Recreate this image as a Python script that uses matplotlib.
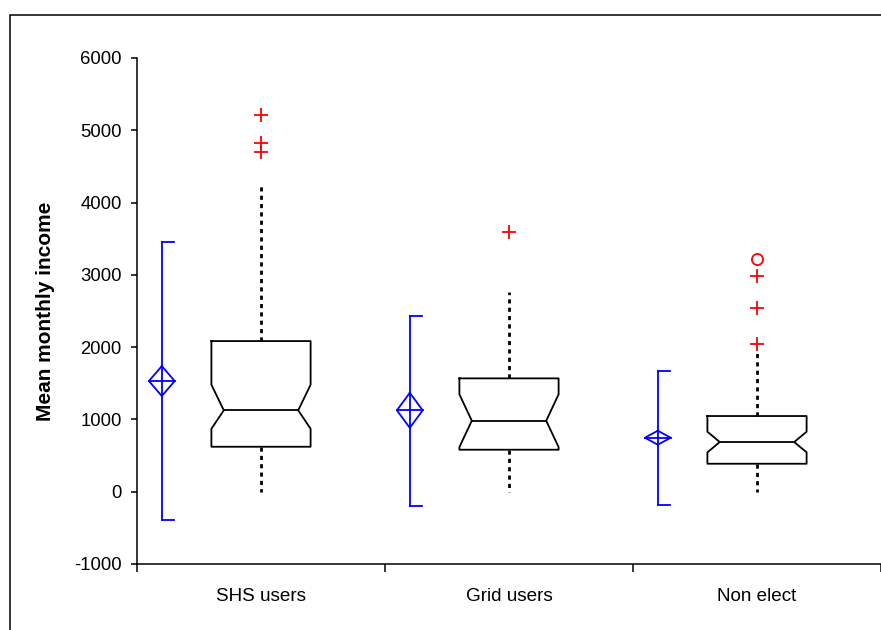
import matplotlib.pyplot as plt
from matplotlib.patches import Rectangle
import numpy as np

plt.rcParams['font.family'] = ['Liberation Sans', 'DejaVu Sans']
plt.rcParams['axes.unicode_minus'] = False

# data
groups = ['SHS users', 'Grid users', 'Non elect']
mean_vals = [1531, 1126, 747]
sd_upper = [3458, 2434, 1674]
sd_lower = [-390, -198, -184]
mean_ci = [207, 242, 97]          # half-height of the mean diamond
box_q1 = [622, 581, 387]
box_q3 = [2084, 1568, 1047]
box_median = [1126, 982, 687]
notch_low = [871, 617, 545]
notch_high = [1480, 1347, 830]
whisker_low = [0, 0, 0]
whisker_high = [4252, 2766, 1960]
outliers_plus = [[5210, 4819, 4703], [3596], [2043, 2545, 2988]]
outliers_circle = [[], [], [3219]]

# layout constants (data units on x)
box_w = 0.40
notch_in = 0.05
mean_off = -0.40
cap_len = 0.048
diam_w = 0.052
lw = 1.3

fig = plt.figure(figsize=(8.81, 6.30), dpi=100)
ax = fig.add_axes([137 / 881, 1 - 564 / 630, 744 / 881, 506 / 630])

# outer frame (cut off at right and bottom like the original)
fig.add_artist(Rectangle((9.5 / 881, -0.2), 1.2, 1.2 - 15 / 630,
                         transform=fig.transFigure, fill=False,
                         edgecolor='black', linewidth=1.1))

pos = np.arange(1, len(groups) + 1)
for i, x in enumerate(pos):
    # mean +- SD with half caps on the right
    xm = x + mean_off
    ax.plot([xm, xm], [sd_lower[i], sd_upper[i]], color='blue', lw=lw)
    ax.plot([xm, xm + cap_len], [sd_upper[i], sd_upper[i]], color='blue', lw=lw)
    ax.plot([xm, xm + cap_len], [sd_lower[i], sd_lower[i]], color='blue', lw=lw)
    m, c = mean_vals[i], mean_ci[i]
    ax.plot([xm, xm + diam_w, xm, xm - diam_w, xm],
            [m + c, m, m - c, m, m + c], color='blue', lw=lw)
    ax.plot([xm - diam_w, xm + diam_w], [m, m], color='blue', lw=lw)

    # notched box
    L, R = x - box_w / 2, x + box_w / 2
    q1, q3, med = box_q1[i], box_q3[i], box_median[i]
    nl, nh = notch_low[i], notch_high[i]
    bx = [L, R, R, R - notch_in, R, R, L, L, L + notch_in, L, L]
    by = [q3, q3, nh, med, nl, q1, q1, nl, med, nh, q3]
    ax.plot(bx, by, color='black', lw=lw)
    ax.plot([L + notch_in, R - notch_in], [med, med], color='black', lw=lw)

    # whiskers
    ax.plot([x, x], [q3, whisker_high[i]], color='black', lw=2,
            linestyle=(0, (1.5, 1.5)))
    ax.plot([x, x], [q1, whisker_low[i]], color='black', lw=2,
            linestyle=(0, (1.5, 1.5)))

    # outliers
    if outliers_plus[i]:
        ax.plot([x] * len(outliers_plus[i]), outliers_plus[i], '+',
                color='red', ms=10, mew=1.3)
    if outliers_circle[i]:
        ax.plot([x] * len(outliers_circle[i]), outliers_circle[i], 'o',
                mfc='none', mec='red', ms=8, mew=1.3)

ax.set_xlim(0.5, 3.5)
ax.set_ylim(-1000, 6000)
ax.set_yticks(np.arange(-1000, 6001, 1000))
ax.tick_params(axis='y', direction='out', length=4, width=1.1, pad=7,
               labelsize=13.3)

ax.set_xticks(np.arange(0.5, 3.6, 1.0))
ax.set_xticklabels([])
ax.set_xticks(pos, minor=True)
ax.set_xticklabels(groups, minor=True, fontsize=13.6)
ax.tick_params(axis='x', which='major', direction='out', length=6, width=1.1)
ax.tick_params(axis='x', which='minor', length=0, pad=17)

for s in ['top', 'right']:
    ax.spines[s].set_visible(False)
for s in ['left', 'bottom']:
    ax.spines[s].set_linewidth(1.1)

ax.set_ylabel('Mean monthly income', fontsize=15, fontweight='bold')
ax.yaxis.set_label_coords(-0.110, 0.5)

fig.savefig('out.png', dpi=100)
